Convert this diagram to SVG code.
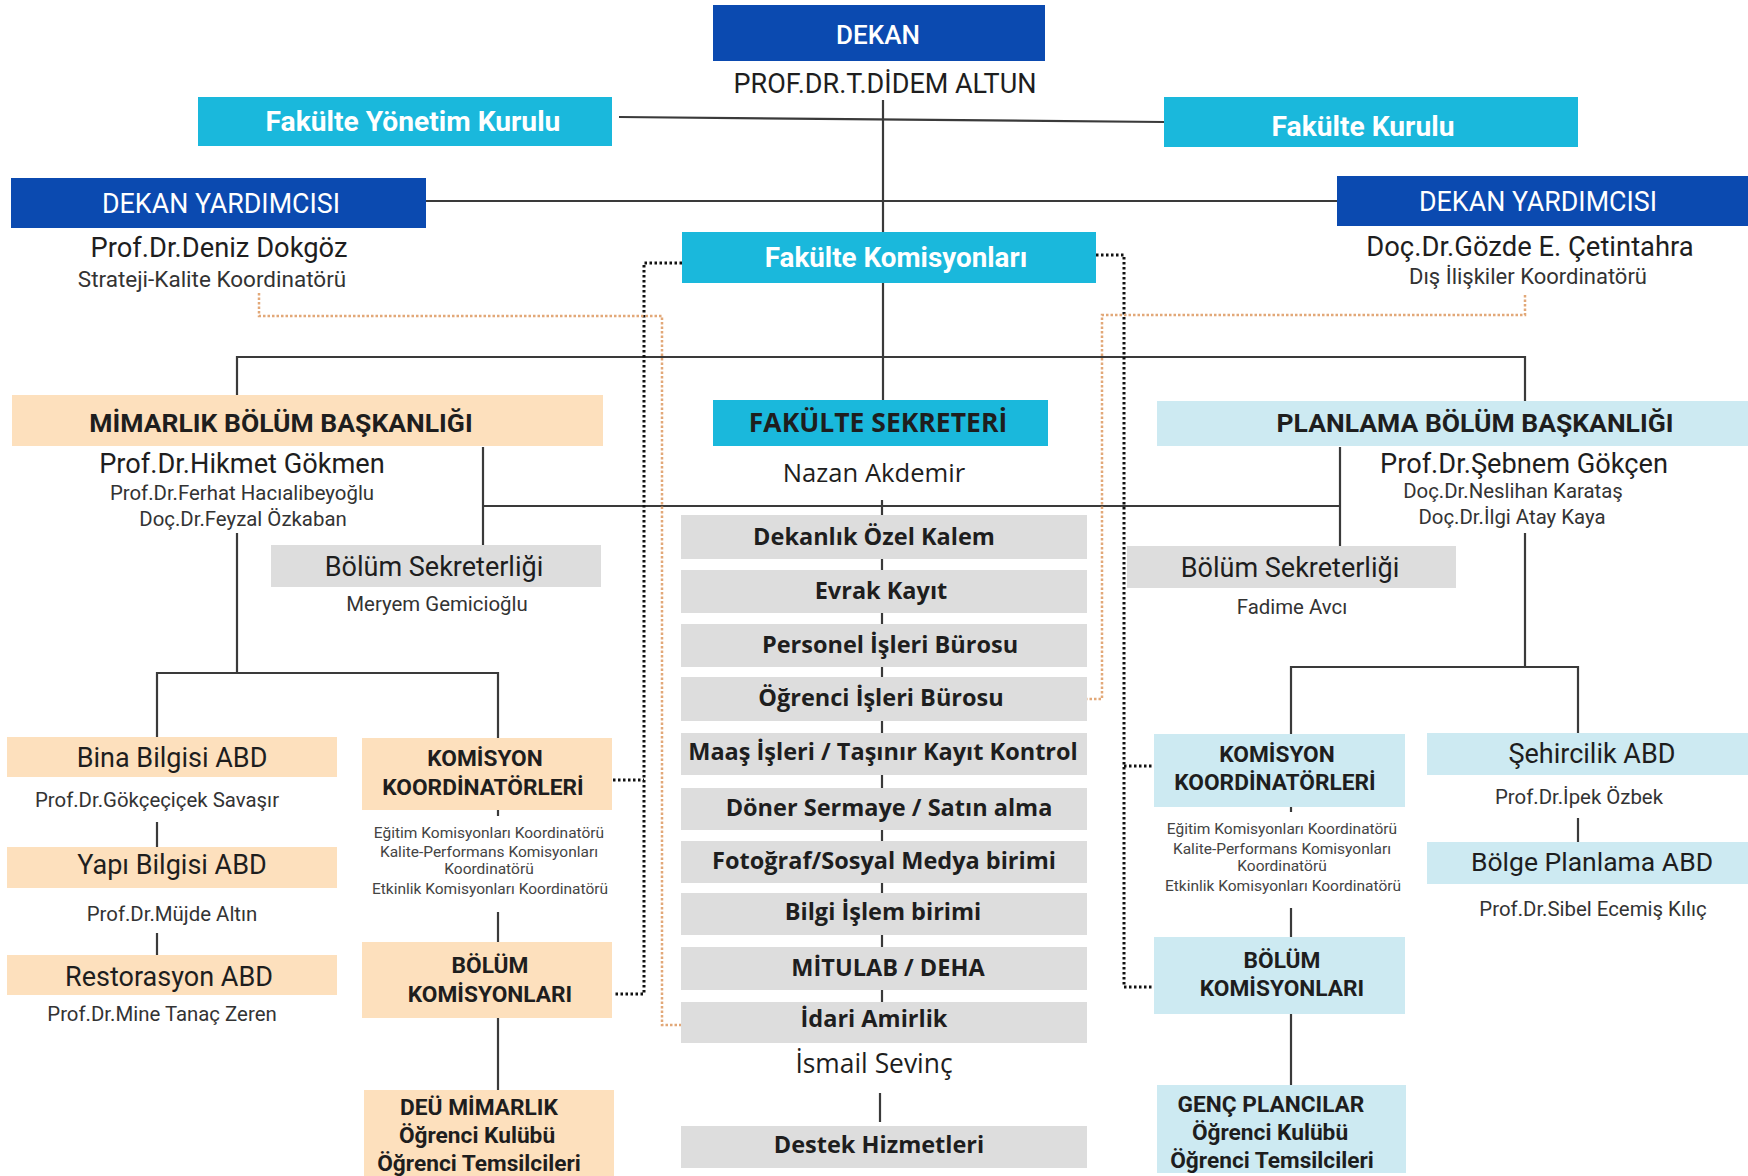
<svg xmlns="http://www.w3.org/2000/svg" width="1748" height="1176" viewBox="0 0 1748 1176">
<style>
.db{fill:#0b4ab0}
.cy{fill:#1ab8dc}
.pe{fill:#fde0bd}
.lb{fill:#cdeaf2}
.gr{fill:#dddddd}
.ln{stroke:#3a3a3a;stroke-width:2.2;fill:none}
.dk{stroke:#111;stroke-width:3;stroke-dasharray:2.5 2.5;fill:none}
.or{stroke:#e2a878;stroke-width:2.5;stroke-dasharray:2.5 2;fill:none}
text{font-family:Roboto,"Liberation Sans",sans-serif;text-anchor:middle;fill:#1e1e1e}
.w{fill:#fff}
.b{font-weight:bold}
.m{font-weight:500}
.o{font-family:"Open Sans","Noto Sans","Liberation Sans",sans-serif}
.g{font-family:"Open Sans","Noto Sans","Liberation Sans",sans-serif;font-weight:bold;font-size:23.5px}
.s{fill:#333;font-size:20.4px}
.t{fill:#444;font-size:15.5px}
.h{font-weight:bold;font-size:22.7px}
</style>
<rect width="1748" height="1176" fill="#fff"/>
<g id="connectors">
<line class="ln" x1="883" y1="100" x2="883" y2="400"/>
<line class="ln" x1="619" y1="117" x2="1164" y2="122"/>
<line class="ln" x1="426" y1="201" x2="1337" y2="201"/>
<polyline class="ln" points="237,396 237,357 1525,357 1525,401"/>
<line class="ln" x1="882" y1="500" x2="882" y2="1002"/>
<line class="ln" x1="880" y1="1093" x2="880" y2="1122"/>
<line class="ln" x1="483" y1="447" x2="483" y2="545"/>
<line class="ln" x1="1340" y1="447" x2="1340" y2="546"/>
<line class="ln" x1="483" y1="506" x2="1340" y2="506"/>
<polyline class="ln" points="237,533 237,673"/>
<polyline class="ln" points="157,737 157,673 498,673 498,738"/>
<line class="ln" x1="157" y1="822" x2="157" y2="847"/>
<line class="ln" x1="157" y1="933" x2="157" y2="955"/>
<line class="ln" x1="498" y1="810" x2="498" y2="816"/>
<line class="ln" x1="498" y1="912" x2="498" y2="942"/>
<line class="ln" x1="498" y1="1018" x2="498" y2="1090"/>
<line class="ln" x1="1525" y1="533" x2="1525" y2="667"/>
<polyline class="ln" points="1291,734 1291,667 1578,667 1578,733"/>
<line class="ln" x1="1578" y1="818" x2="1578" y2="842"/>
<line class="ln" x1="1291" y1="807" x2="1291" y2="812"/>
<line class="ln" x1="1291" y1="908" x2="1291" y2="937"/>
<line class="ln" x1="1291" y1="1014" x2="1291" y2="1085"/>
<polyline class="dk" points="682,263 644,263 644,994 613,994"/>
<line class="dk" x1="613" y1="780" x2="644" y2="780"/>
<polyline class="dk" points="1096,255 1124,255 1124,987 1154,987"/>
<line class="dk" x1="1124" y1="766" x2="1154" y2="766"/>
<polyline class="or" points="259,293 259,316 662,316 662,1025 723,1025"/>
<polyline class="or" points="1525,295 1525,315 1102,315 1102,699 1040,699"/>
</g>
<g id="dekan">
<rect class="db" x="713" y="5" width="332" height="56"/>
<text class="w m" x="878" y="44" font-size="26">DEKAN</text>
<text x="885" y="93" font-size="27">PROF.DR.T.DİDEM ALTUN</text>
</g>
<g id="fakulte-yonetim-kurulu">
<rect class="cy" x="198" y="97" width="414" height="49"/>
<text class="w b" x="413" y="131" font-size="28.2">Fakülte Yönetim Kurulu</text>
</g>
<g id="fakulte-kurulu">
<rect class="cy" x="1164" y="97" width="414" height="50"/>
<text class="w b" x="1363" y="136" font-size="28.2">Fakülte Kurulu</text>
</g>
<g id="dekan-yardimcisi-1">
<rect class="db" x="11" y="178" width="415" height="50"/>
<text class="w" x="221" y="213" font-size="26.8">DEKAN YARDIMCISI</text>
<text x="219" y="257" font-size="27.3">Prof.Dr.Deniz Dokgöz</text>
<text class="s" x="212" y="287" font-size="22.5" style="font-size:22.5px">Strateji-Kalite Koordinatörü</text>
</g>
<g id="dekan-yardimcisi-2">
<rect class="db" x="1337" y="176" width="411" height="50"/>
<text class="w" x="1538" y="211" font-size="26.8">DEKAN YARDIMCISI</text>
<text x="1530" y="256" font-size="27.4">Doç.Dr.Gözde E. Çetintahra</text>
<text class="s" x="1528" y="284" style="font-size:22px">Dış İlişkiler Koordinatörü</text>
</g>
<g id="fakulte-komisyonlari">
<rect class="cy" x="682" y="232" width="414" height="51"/>
<text class="w b" x="896" y="267" font-size="27.8">Fakülte Komisyonları</text>
</g>
<g id="mimarlik-bolum">
<rect class="pe" x="12" y="395" width="591" height="51"/>
<text class="b" x="281" y="432" font-size="26.5">MİMARLIK BÖLÜM BAŞKANLIĞI</text>
<text x="242" y="473" font-size="27.2">Prof.Dr.Hikmet Gökmen</text>
<text class="s" x="242" y="500">Prof.Dr.Ferhat Hacıalibeyoğlu</text>
<text class="s" x="243" y="526">Doç.Dr.Feyzal Özkaban</text>
</g>
<g id="fakulte-sekreteri">
<rect class="cy" x="713" y="400" width="335" height="46"/>
<text class="b o" x="878" y="432" font-size="26.5">FAKÜLTE SEKRETERİ</text>
<text class="o" x="874" y="482" font-size="25.6">Nazan Akdemir</text>
</g>
<g id="planlama-bolum">
<rect class="lb" x="1157" y="401" width="591" height="45"/>
<text class="b" x="1475" y="432" font-size="26.5">PLANLAMA BÖLÜM BAŞKANLIĞI</text>
<text x="1524" y="473" font-size="27.2">Prof.Dr.Şebnem Gökçen</text>
<text class="s" x="1513" y="498">Doç.Dr.Neslihan Karataş</text>
<text class="s" x="1512" y="524">Doç.Dr.İlgi Atay Kaya</text>
</g>
<g id="bolum-sekreterligi-1">
<rect class="gr" x="271" y="545" width="330" height="42"/>
<text x="434" y="576" font-size="27">Bölüm Sekreterliği</text>
<text class="s" x="437" y="611">Meryem Gemicioğlu</text>
</g>
<g id="bolum-sekreterligi-2">
<rect class="gr" x="1127" y="546" width="329" height="42"/>
<text x="1290" y="577" font-size="27">Bölüm Sekreterliği</text>
<text class="s" x="1292" y="614">Fadime Avcı</text>
</g>
<g id="dekanlik-ozel-kalem"><rect class="gr" x="681" y="515" width="406" height="44"/><text class="g" x="874" y="545">Dekanlık Özel Kalem</text></g>
<g id="evrak-kayit"><rect class="gr" x="681" y="570" width="406" height="43"/><text class="g" x="881" y="599">Evrak Kayıt</text></g>
<g id="personel-isleri"><rect class="gr" x="681" y="624" width="406" height="43"/><text class="g" x="890" y="653">Personel İşleri Bürosu</text></g>
<g id="ogrenci-isleri"><rect class="gr" x="681" y="677" width="406" height="44"/><text class="g" x="881" y="706">Öğrenci İşleri Bürosu</text></g>
<g id="maas-isleri"><rect class="gr" x="681" y="733" width="406" height="42"/><text class="g" x="883" y="760">Maaş İşleri / Taşınır Kayıt Kontrol</text></g>
<g id="doner-sermaye"><rect class="gr" x="681" y="788" width="406" height="42"/><text class="g" x="889" y="816">Döner Sermaye / Satın alma</text></g>
<g id="fotograf"><rect class="gr" x="681" y="841" width="406" height="42"/><text class="g" x="884" y="869">Fotoğraf/Sosyal Medya birimi</text></g>
<g id="bilgi-islem"><rect class="gr" x="681" y="893" width="406" height="42"/><text class="g" x="883" y="920">Bilgi İşlem birimi</text></g>
<g id="mitulab"><rect class="gr" x="681" y="947" width="406" height="43"/><text class="g" x="888" y="976">MİTULAB / DEHA</text></g>
<g id="idari-amirlik"><rect class="gr" x="681" y="1002" width="406" height="41"/><text class="g" x="874" y="1027">İdari Amirlik</text><text class="o" x="874" y="1073" font-size="26.4">İsmail Sevinç</text></g>
<g id="destek-hizmetleri"><rect class="gr" x="681" y="1126" width="406" height="42"/><text class="g" x="879" y="1153">Destek Hizmetleri</text></g>
<g id="bina-bilgisi">
<rect class="pe" x="7" y="737" width="330" height="40"/>
<text x="172" y="767" font-size="27">Bina Bilgisi ABD</text>
<text class="s" x="157" y="807">Prof.Dr.Gökçeçiçek Savaşır</text>
</g>
<g id="yapi-bilgisi">
<rect class="pe" x="7" y="847" width="330" height="41"/>
<text x="172" y="874" font-size="27">Yapı Bilgisi ABD</text>
<text class="s" x="172" y="921">Prof.Dr.Müjde Altın</text>
</g>
<g id="restorasyon">
<rect class="pe" x="7" y="955" width="330" height="40"/>
<text x="169" y="986" font-size="27">Restorasyon ABD</text>
<text class="s" x="162" y="1021">Prof.Dr.Mine Tanaç Zeren</text>
</g>
<g id="komisyon-koordinatorleri-1">
<rect class="pe" x="362" y="738" width="250" height="72"/>
<text class="h" x="485" y="766">KOMİSYON</text>
<text class="h" x="483" y="795">KOORDİNATÖRLERİ</text>
<text class="t" x="489" y="838">Eğitim Komisyonları Koordinatörü</text>
<text class="t" x="489" y="857">Kalite-Performans Komisyonları</text>
<text class="t" x="489" y="874">Koordinatörü</text>
<text class="t" x="490" y="894">Etkinlik Komisyonları Koordinatörü</text>
</g>
<g id="bolum-komisyonlari-1">
<rect class="pe" x="362" y="942" width="250" height="76"/>
<text class="h" x="490" y="973">BÖLÜM</text>
<text class="h" x="490" y="1002">KOMİSYONLARI</text>
</g>
<g id="deu-mimarlik">
<rect class="pe" x="364" y="1090" width="250" height="86"/>
<text class="h" x="479" y="1115">DEÜ MİMARLIK</text>
<text class="h" x="477" y="1143">Öğrenci Kulübü</text>
<text class="h" x="479" y="1171">Öğrenci Temsilcileri</text>
</g>
<g id="komisyon-koordinatorleri-2">
<rect class="lb" x="1154" y="734" width="251" height="73"/>
<text class="h" x="1277" y="762">KOMİSYON</text>
<text class="h" x="1275" y="790">KOORDİNATÖRLERİ</text>
<text class="t" x="1282" y="834">Eğitim Komisyonları Koordinatörü</text>
<text class="t" x="1282" y="854">Kalite-Performans Komisyonları</text>
<text class="t" x="1282" y="871">Koordinatörü</text>
<text class="t" x="1283" y="891">Etkinlik Komisyonları Koordinatörü</text>
</g>
<g id="bolum-komisyonlari-2">
<rect class="lb" x="1154" y="937" width="251" height="77"/>
<text class="h" x="1282" y="968">BÖLÜM</text>
<text class="h" x="1282" y="996">KOMİSYONLARI</text>
</g>
<g id="genc-plancilar">
<rect class="lb" x="1157" y="1085" width="249" height="88"/>
<text class="h" x="1271" y="1112">GENÇ PLANCILAR</text>
<text class="h" x="1270" y="1140">Öğrenci Kulübü</text>
<text class="h" x="1272" y="1168">Öğrenci Temsilcileri</text>
</g>
<g id="sehircilik">
<rect class="lb" x="1427" y="733" width="321" height="42"/>
<text x="1592" y="763" font-size="27">Şehircilik ABD</text>
<text class="s" x="1579" y="804">Prof.Dr.İpek Özbek</text>
</g>
<g id="bolge-planlama">
<rect class="lb" x="1427" y="842" width="321" height="42"/>
<text x="1592" y="871" font-size="26.5">Bölge Planlama ABD</text>
<text class="s" x="1593" y="916">Prof.Dr.Sibel Ecemiş Kılıç</text>
</g>
</svg>
